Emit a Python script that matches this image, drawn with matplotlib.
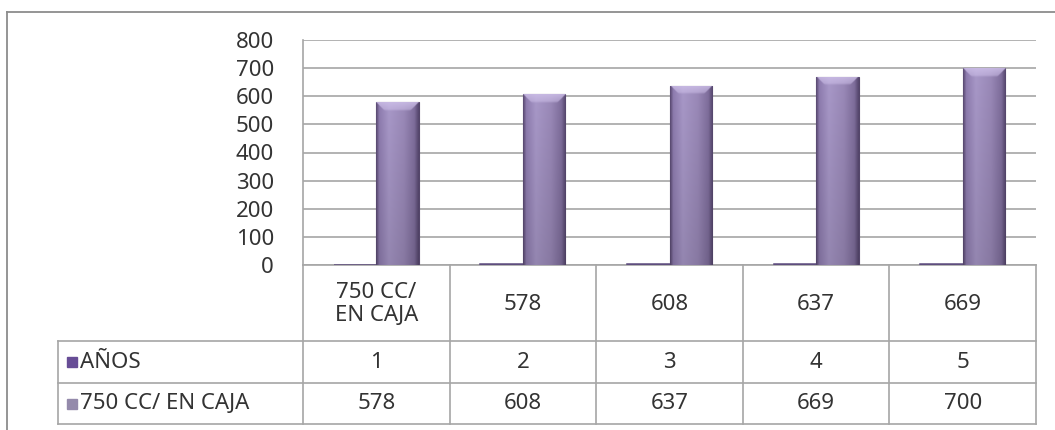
import numpy as np
import matplotlib
matplotlib.use("Agg")
import matplotlib.pyplot as plt
from matplotlib.colors import LinearSegmentedColormap, to_rgb

# ---- data ----
categories = ["750 CC/\nEN CAJA", "578", "608", "637", "669"]
series_names = ["AÑOS", "750 CC/ EN CAJA"]
anos = [1, 2, 3, 4, 5]
caja_750 = [578, 608, 637, 669, 700]
y_ticks = [0, 100, 200, 300, 400, 500, 600, 700, 800]

plt.rcParams["font.family"] = ["Noto Sans", "DejaVu Sans"]
TEXT = "#333333"
GRID = "#a6a6a6"
FS = 16

W, H = 1055, 430
fig = plt.figure(figsize=(W / 100, H / 100), dpi=100)
fig.patch.set_facecolor("white")

# layout in pixels
plot_l, plot_r, plot_t, plot_b = 303, 1036, 40, 265
table_l = 58
row_lines = [265, 341, 383, 424]

ax = fig.add_axes([plot_l / W, 1 - plot_b / H, (plot_r - plot_l) / W, (plot_b - plot_t) / H])
ax.set_ylim(0, 800)
ax.set_yticks(y_ticks)
ax.set_xticks([])
ax.yaxis.grid(True, color=GRID, lw=1.2)
ax.set_axisbelow(True)
for s in ("top", "right"):
    ax.spines[s].set_visible(False)
for s in ("left", "bottom"):
    ax.spines[s].set_color(GRID)
    ax.spines[s].set_linewidth(1.2)
ax.tick_params(axis="y", length=0, pad=21, labelsize=FS, labelcolor=TEXT)

x = np.arange(len(categories))
bw = 0.29

# thin dark bars for the first series
ax.bar(x - bw / 2, anos, width=bw, color="#5e4d7e", edgecolor="#5e4d7e", lw=1.1, zorder=3)

# shaded bars for the second series
bars = ax.bar(x + bw / 2, caja_750, width=bw, color="#9887b5", edgecolor="#54466a", lw=0.8, zorder=3)

hcmap = LinearSegmentedColormap.from_list(
    "barshade",
    [(0.0, "#5a4a72"), (0.07, "#8e7caf"), (0.3, "#a898c8"),
     (0.65, "#9a89b8"), (0.9, "#7f6e9c"), (1.0, "#56476e")])
nx, ny = 80, 600
hprof = hcmap(np.linspace(0, 1, nx))[:, :3]
data_per_px = 800 / (plot_b - plot_t)
px_per_x = (plot_r - plot_l) / len(categories)
light = np.array(to_rgb("#cdbfe8"))
for rect in bars:
    x0, w, h = rect.get_x(), rect.get_width(), rect.get_height()
    rows = np.linspace(0, 1, ny)  # 0 top, 1 bottom
    vshade = 1.0 - 0.12 * rows
    img = hprof[None, :, :] * vshade[:, None, None]
    # chamfered top face
    rows_px = rows * h / data_per_px
    cols_px = np.linspace(0, 1, nx) * w * px_per_x
    side = np.minimum(cols_px, w * px_per_x - cols_px)
    bevel_px = 9.0
    inside = np.clip(side[None, :] - rows_px[:, None] + 0.5, 0, 1)
    band = np.clip((bevel_px - rows_px) / 2.0, 0, 1)[:, None]
    fade = np.clip(1 - rows_px / bevel_px, 0, 1)[:, None]
    mix = (inside * band * (0.45 + 0.4 * fade))[:, :, None]
    img = img * (1 - mix) + light * mix
    im = ax.imshow(np.clip(img, 0, 1), extent=(x0, x0 + w, 0, h), aspect="auto",
                   origin="upper", zorder=3.5, interpolation="bilinear")
    im.set_clip_path(rect)
ax.set_xlim(-0.5, len(categories) - 0.5)
ax.set_ylim(0, 800)

# ---- overlay in pixel coordinates: frame and data table ----
ov = fig.add_axes([0, 0, 1, 1], zorder=5)
ov.set_xlim(0, W)
ov.set_ylim(H, 0)
ov.axis("off")
ov.patch.set_alpha(0)

# chart frame
ov.plot([7, W + 5], [12, 12], color="#8c8c8c", lw=1.3)
ov.plot([7, 7], [12, H + 5], color="#8c8c8c", lw=1.3)

ncol = len(categories)
col_edges = np.linspace(plot_l, plot_r, ncol + 1)
centers = (col_edges[:-1] + col_edges[1:]) / 2

# horizontal rules
for yl in row_lines[1:]:
    ov.plot([table_l, plot_r], [yl, yl], color=GRID, lw=1.2)
# vertical rules
for xe in col_edges:
    ov.plot([xe, xe], [row_lines[0], row_lines[-1]], color=GRID, lw=1.2)
ov.plot([table_l, table_l], [row_lines[1], row_lines[-1]], color=GRID, lw=1.2)

# category row
for cx, lab in zip(centers, categories):
    ov.text(cx, (row_lines[0] + row_lines[1]) / 2 + 1, lab, ha="center", va="center",
            fontsize=FS, color=TEXT, linespacing=1.15)

# series rows
marker_cols = ["#674d96", "#948aab"]
for i, (name, vals) in enumerate(zip(series_names, [anos, caja_750])):
    yc = (row_lines[i + 1] + row_lines[i + 2]) / 2
    ov.add_patch(plt.Rectangle((67, yc - 5), 10, 10, color=marker_cols[i]))
    ov.text(80, yc, name, ha="left", va="center", fontsize=FS, color=TEXT)
    for cx, v in zip(centers, vals):
        ov.text(cx, yc, str(v), ha="center", va="center", fontsize=FS, color=TEXT)

fig.savefig("out.png", dpi=100, facecolor="white")
